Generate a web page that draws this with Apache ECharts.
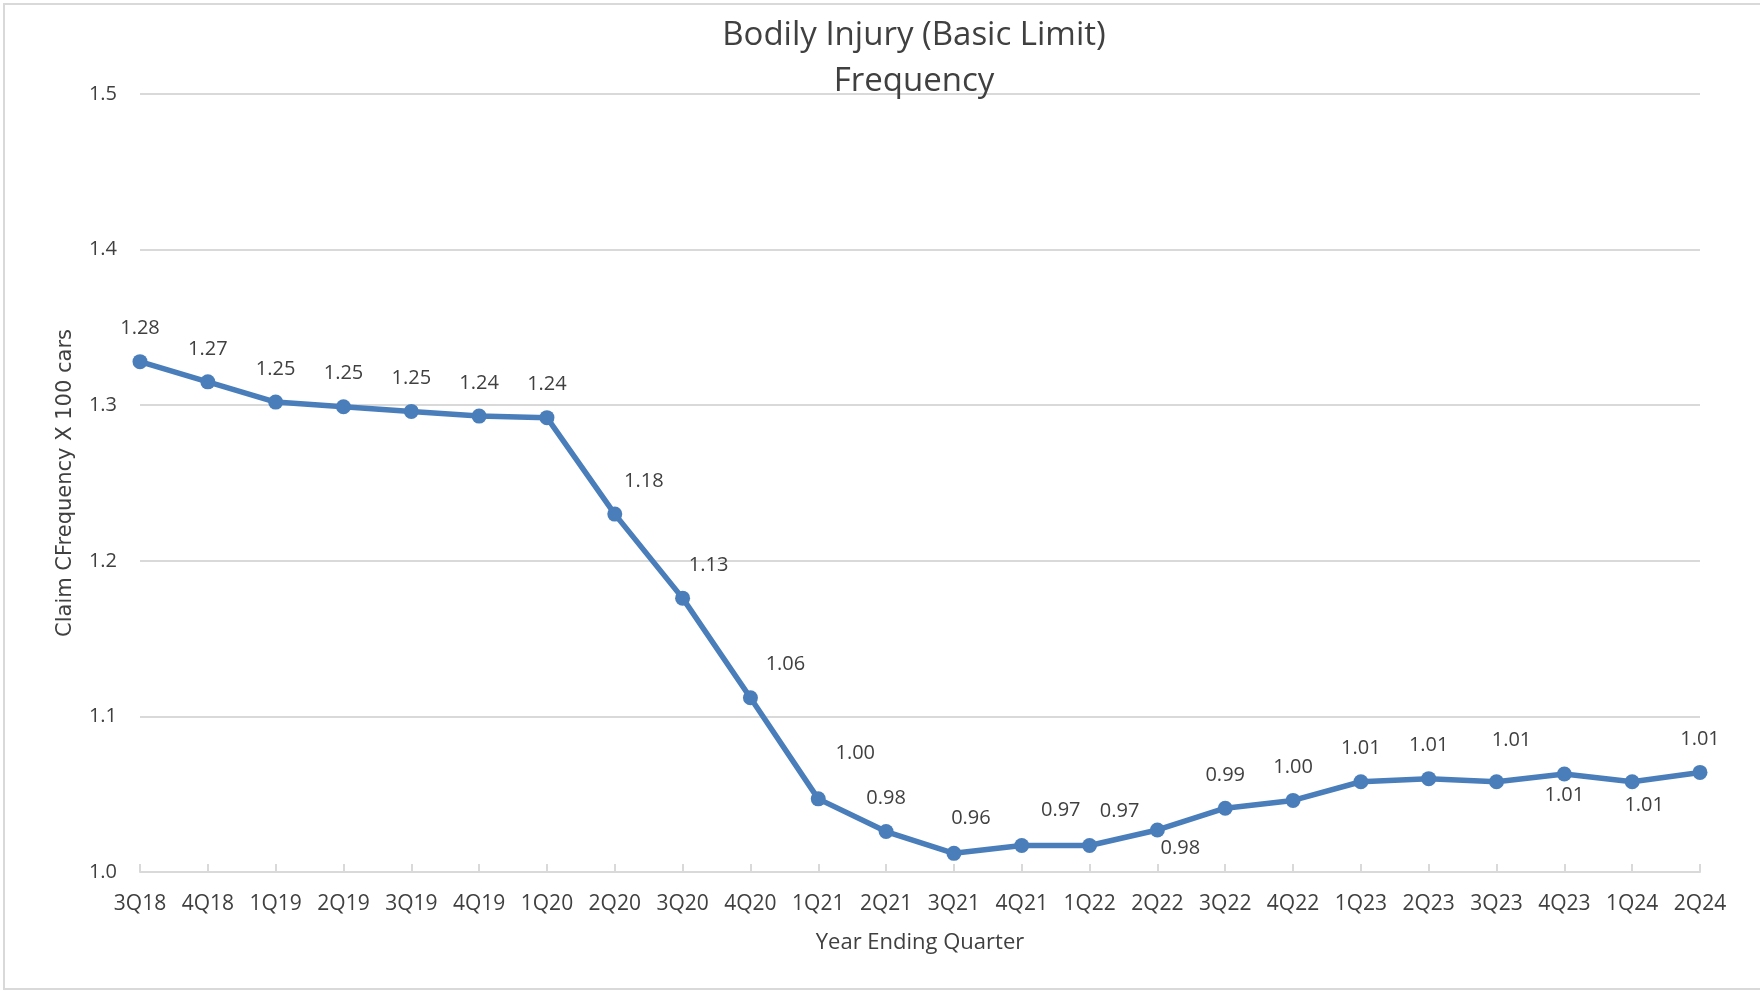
<!DOCTYPE html>
<html>
<head>
<meta charset="utf-8">
<title>Bodily Injury (Basic Limit) Frequency</title>
<script src="https://cdn.jsdelivr.net/npm/echarts@6/dist/echarts.min.js"></script>
<style>
    html, body { margin: 0; padding: 0; background: #fff; }
    #chart { width: 1760px; height: 994px; }
</style>
</head>
<body>
<div id="chart"></div>
<script>
// quarters on the x axis
var quarters = ['3Q18', '4Q18', '1Q19', '2Q19', '3Q19', '4Q19', '1Q20', '2Q20', '3Q20', '4Q20',
    '1Q21', '2Q21', '3Q21', '4Q21', '1Q22', '2Q22', '3Q22', '4Q22', '1Q23', '2Q23',
    '3Q23', '4Q23', '1Q24', '2Q24'];

// plotted frequency values (as drawn)
var frequency = [1.328, 1.315, 1.302, 1.299, 1.296, 1.293, 1.292, 1.230, 1.176, 1.112,
    1.047, 1.026, 1.012, 1.017, 1.017, 1.027, 1.041, 1.046, 1.058, 1.060,
    1.058, 1.063, 1.058, 1.064];

// data label texts as printed on the chart
var labelText = ['1.28', '1.27', '1.25', '1.25', '1.25', '1.24', '1.24', '1.18', '1.13', '1.06',
    '1.00', '0.98', '0.96', '0.97', '0.97', '0.98', '0.99', '1.00', '1.01', '1.01',
    '1.01', '1.01', '1.01', '1.01'];

var yTicks = [1.0, 1.1, 1.2, 1.3, 1.4, 1.5];

(function () {
    var myChart = echarts.init(document.getElementById('chart'));

    // where each data label sits relative to its point (dx, dy)
    var offsets = {
        7: [29, -33], 8: [26, -33], 9: [35, -33], 10: [37, -46],
        12: [17, -35], 13: [39, -35], 14: [30, -34], 15: [23, 18],
        20: [15, -41], 21: [0, 21], 22: [12, 24]
    };

    var seriesData = frequency.map(function (v, i) {
        return {
            value: v,
            label: {
                formatter: labelText[i],
                offset: offsets[i] || [0, -33]
            }
        };
    });

    var option = {
        backgroundColor: '#fff',
        animation: false,
        title: {
            text: 'Bodily Injury (Basic Limit)\nFrequency',
            left: 909,
            top: 8,
            textAlign: 'center',
            textStyle: {
                fontFamily: 'Open Sans',
                fontSize: 33,
                fontWeight: 'normal',
                color: '#404040',
                lineHeight: 46
            }
        },
        grid: {
            left: 140,
            right: 60,
            top: 94,
            bottom: 122
        },
        xAxis: {
            type: 'category',
            data: quarters,
            boundaryGap: false,
            name: 'Year Ending Quarter',
            nameLocation: 'middle',
            nameGap: 60,
            nameTextStyle: {
                fontFamily: 'Open Sans',
                fontSize: 22,
                color: '#404040'
            },
            axisLine: { lineStyle: { color: '#d9d9d9', width: 2 } },
            axisTick: {
                show: true,
                inside: true,
                length: 8,
                alignWithLabel: true,
                lineStyle: { color: '#d9d9d9', width: 2 }
            },
            axisLabel: {
                margin: 22,
                interval: 0,
                fontFamily: 'Open Sans',
                fontSize: 21,
                color: '#404040'
            },
            splitLine: { show: false }
        },
        yAxis: {
            type: 'value',
            min: yTicks[0],
            max: yTicks[yTicks.length - 1],
            interval: 0.1,
            name: 'Claim CFrequency X 100 cars',
            nameLocation: 'middle',
            nameGap: 64,
            nameRotate: 90,
            nameTextStyle: {
                fontFamily: 'DejaVu Sans',
                fontSize: 21,
                color: '#404040'
            },
            axisLine: { show: false },
            axisTick: { show: false },
            axisLabel: {
                margin: 23,
                fontFamily: 'Open Sans',
                fontSize: 20,
                color: '#404040',
                formatter: function (v) { return v.toFixed(1); }
            },
            splitLine: { lineStyle: { color: '#d9d9d9', width: 2 } }
        },
        graphic: [{
            type: 'rect',
            shape: { x: 4, y: 4, width: 1770, height: 985 },
            style: { fill: 'none', stroke: '#d9d9d9', lineWidth: 2 },
            silent: true
        }],
        series: [{
            type: 'line',
            data: seriesData,
            symbol: 'circle',
            symbolSize: 15,
            lineStyle: { color: '#4a7ebb', width: 5.5 },
            itemStyle: { color: '#4a7ebb' },
            label: {
                show: true,
                position: 'inside',
                align: 'center',
                verticalAlign: 'middle',
                fontFamily: 'Open Sans',
                fontSize: 20,
                color: '#404040'
            }
        }]
    };
    myChart.setOption(option);

    window.addEventListener('resize', function () {
        myChart.resize();
    });
})();
</script>
</body>
</html>
